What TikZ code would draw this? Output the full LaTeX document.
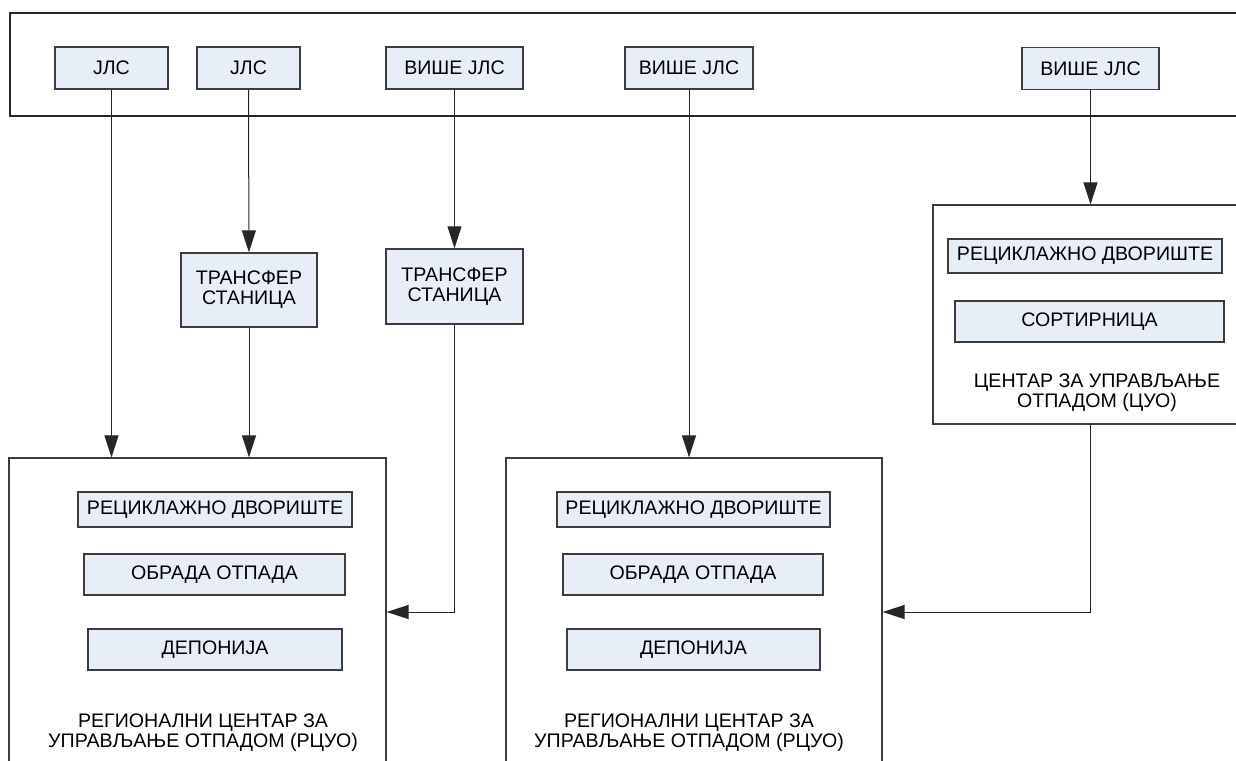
\documentclass[tikz,border=0pt]{standalone}
\usepackage{fontspec}
\setmainfont{Liberation Sans}
\usepackage{xcolor}
\definecolor{boxfill}{RGB}{232,238,248}
\definecolor{boxline}{RGB}{60,60,60}
\usepackage{tikz}
\usetikzlibrary{arrows.meta}
\newcommand{\heightsmall}{21pt}
\newcommand{\heightinner}{20.5pt}
\tikzset{
    common/.style={draw=boxline, line width=0.7pt, rectangle, inner sep=0pt, align=center,
        font=\fontsize{9.8}{10}\selectfont},
    unit/.style={common, fill=boxfill, minimum height=\heightsmall},
    inner/.style={common, fill=boxfill, minimum height=\heightinner},
    center/.style={draw=boxline, line width=0.6pt, rectangle, inner sep=0pt},
    title/.style={align=center, font=\fontsize{9.8}{10}\selectfont},
    flow/.style={-{Triangle[length=11pt, width=7pt]}, line width=0.5pt, draw=black!85}
}
\begin{document}
\begin{tikzpicture}[x=0.5pt, y=-0.5pt]
        \useasboundingbox (0,0) rectangle (1236,760);

        % band of local governments
        \node[draw=black!85, line width=0.6pt, minimum width=630pt, minimum height=51.5pt] (band) at (640,64.5) {};

        \node[unit, minimum width=56.5pt] (jls1) at (111.5,68) {ЈЛС};
        \node[unit, minimum width=51.5pt] (jls2) at (248.5,68) {ЈЛС};
        \node[unit, minimum width=68.5pt] (vjls1) at (454.5,68) {ВИШЕ ЈЛС};
        \node[unit, minimum width=64pt] (vjls2) at (689,68) {ВИШЕ ЈЛС};
        \node[unit, minimum width=68.5pt] (vjls3) at (1090.5,68.5) {ВИШЕ ЈЛС};

        % transfer stations
        \node[unit, minimum width=68pt, minimum height=37pt] (ts1) at (249,290) {ТРАНСФЕР\\СТАНИЦА};
        \node[unit, minimum width=68.5pt, minimum height=37.5pt] (ts2) at (454.5,286.5) {ТРАНСФЕР\\СТАНИЦА};

        % centres
        \node[center, minimum width=188.5pt, minimum height=154pt] (rcuo1) at (197.5,612) {};
        \node[center, minimum width=188pt, minimum height=154pt] (rcuo2) at (694,612) {};
        \node[center, minimum width=157pt, minimum height=109.5pt] (cuo) at (1090,314.5) {};

        \node[inner, minimum width=137pt, minimum height=17.5pt] (rd1) at (215,509.5) {РЕЦИКЛАЖНО ДВОРИШТЕ};
        \node[inner, minimum width=130.5pt] (oo1) at (214.5,574.5) {ОБРАДА ОТПАДА};
        \node[inner, minimum width=127pt] (dep1) at (215,649.5) {ДЕПОНИЈА};
        \node[title] (t1) at (203,733) {РЕГИОНАЛНИ ЦЕНТАР ЗА\\УПРАВЉАЊЕ ОТПАДОМ (РЦУО)};

        \node[inner, minimum width=136.5pt, minimum height=17.5pt] (rd2) at (693.5,509.5) {РЕЦИКЛАЖНО ДВОРИШТЕ};
        \node[inner, minimum width=130pt] (oo2) at (693,574.5) {ОБРАДА ОТПАДА};
        \node[inner, minimum width=126.5pt] (dep2) at (693.5,649.5) {ДЕПОНИЈА};
        \node[title] (t2) at (689,733) {РЕГИОНАЛНИ ЦЕНТАР ЗА\\УПРАВЉАЊЕ ОТПАДОМ (РЦУО)};

        \node[inner, minimum width=137pt, minimum height=17pt] (rd3) at (1085,256) {РЕЦИКЛАЖНО ДВОРИШТЕ};
        \node[inner, minimum width=134.5pt] (sort) at (1089.5,321.5) {СОРТИРНИЦА};
        \node[title] (t3) at (1097,392.5) {ЦЕНТАР ЗА УПРАВЉАЊЕ\\ОТПАДОМ (ЦУО)};

        \draw[flow] (jls1) -- (jls1.south |- rcuo1.north);
        \draw[flow] (jls2) -- (ts1);
        \draw[flow] (ts1) -- (ts1.south |- rcuo1.north);
        \draw[flow] (vjls1) -- (ts2);
        \draw[flow] (ts2.south) |- (rcuo1.east);
        \draw[flow] (vjls2) -- (vjls2.south |- rcuo2.north);
        \draw[flow] (vjls3) -- (vjls3.south |- cuo.north);
        \draw[flow] (cuo.south) |- (rcuo2.east);
    \end{tikzpicture}
\end{document}
